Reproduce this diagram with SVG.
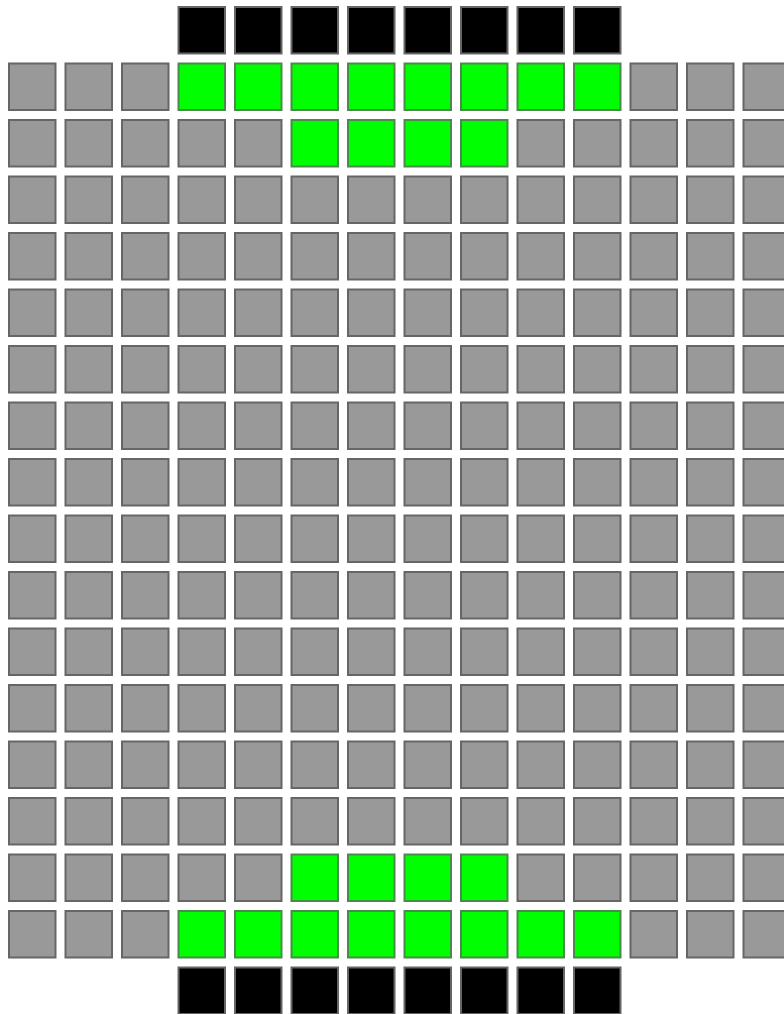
<svg xmlns="http://www.w3.org/2000/svg" width="784" height="1014" viewBox="0 0 784 1014">
<style>
rect{width:46.5px;height:46.5px;stroke:#666;stroke-width:2}
.g{fill:#999}
.n{fill:#00ff00;stroke:#4a8a4a}
.k{fill:#000;stroke:#666}
</style>
<rect x="0" y="0" width="784" height="1014" style="fill:#fff;stroke:none;width:784px;height:1014px"/>
<g id="connectors"/>
<g id="row0" transform="translate(0,7)">
<g id="n0-3"><rect class="k" x="178.5" y="0"/></g><g id="n0-4"><rect class="k" x="235" y="0"/></g><g id="n0-5"><rect class="k" x="291.5" y="0"/></g><g id="n0-6"><rect class="k" x="348" y="0"/></g><g id="n0-7"><rect class="k" x="404.5" y="0"/></g><g id="n0-8"><rect class="k" x="461" y="0"/></g><g id="n0-9"><rect class="k" x="517.5" y="0"/></g><g id="n0-10"><rect class="k" x="574" y="0"/></g>
</g>
<g id="row1" transform="translate(0,63.5)">
<g id="n1-0"><rect class="g" x="9" y="0"/></g><g id="n1-1"><rect class="g" x="65.5" y="0"/></g><g id="n1-2"><rect class="g" x="122" y="0"/></g><g id="n1-3"><rect class="n" x="178.5" y="0"/></g><g id="n1-4"><rect class="n" x="235" y="0"/></g><g id="n1-5"><rect class="n" x="291.5" y="0"/></g><g id="n1-6"><rect class="n" x="348" y="0"/></g><g id="n1-7"><rect class="n" x="404.5" y="0"/></g><g id="n1-8"><rect class="n" x="461" y="0"/></g><g id="n1-9"><rect class="n" x="517.5" y="0"/></g><g id="n1-10"><rect class="n" x="574" y="0"/></g><g id="n1-11"><rect class="g" x="630.5" y="0"/></g><g id="n1-12"><rect class="g" x="687" y="0"/></g><g id="n1-13"><rect class="g" x="743.5" y="0"/></g>
</g>
<g id="row2" transform="translate(0,120)">
<g id="n2-0"><rect class="g" x="9" y="0"/></g><g id="n2-1"><rect class="g" x="65.5" y="0"/></g><g id="n2-2"><rect class="g" x="122" y="0"/></g><g id="n2-3"><rect class="g" x="178.5" y="0"/></g><g id="n2-4"><rect class="g" x="235" y="0"/></g><g id="n2-5"><rect class="n" x="291.5" y="0"/></g><g id="n2-6"><rect class="n" x="348" y="0"/></g><g id="n2-7"><rect class="n" x="404.5" y="0"/></g><g id="n2-8"><rect class="n" x="461" y="0"/></g><g id="n2-9"><rect class="g" x="517.5" y="0"/></g><g id="n2-10"><rect class="g" x="574" y="0"/></g><g id="n2-11"><rect class="g" x="630.5" y="0"/></g><g id="n2-12"><rect class="g" x="687" y="0"/></g><g id="n2-13"><rect class="g" x="743.5" y="0"/></g>
</g>
<g id="row3" transform="translate(0,176.5)">
<g id="n3-0"><rect class="g" x="9" y="0"/></g><g id="n3-1"><rect class="g" x="65.5" y="0"/></g><g id="n3-2"><rect class="g" x="122" y="0"/></g><g id="n3-3"><rect class="g" x="178.5" y="0"/></g><g id="n3-4"><rect class="g" x="235" y="0"/></g><g id="n3-5"><rect class="g" x="291.5" y="0"/></g><g id="n3-6"><rect class="g" x="348" y="0"/></g><g id="n3-7"><rect class="g" x="404.5" y="0"/></g><g id="n3-8"><rect class="g" x="461" y="0"/></g><g id="n3-9"><rect class="g" x="517.5" y="0"/></g><g id="n3-10"><rect class="g" x="574" y="0"/></g><g id="n3-11"><rect class="g" x="630.5" y="0"/></g><g id="n3-12"><rect class="g" x="687" y="0"/></g><g id="n3-13"><rect class="g" x="743.5" y="0"/></g>
</g>
<g id="row4" transform="translate(0,233)">
<g id="n4-0"><rect class="g" x="9" y="0"/></g><g id="n4-1"><rect class="g" x="65.5" y="0"/></g><g id="n4-2"><rect class="g" x="122" y="0"/></g><g id="n4-3"><rect class="g" x="178.5" y="0"/></g><g id="n4-4"><rect class="g" x="235" y="0"/></g><g id="n4-5"><rect class="g" x="291.5" y="0"/></g><g id="n4-6"><rect class="g" x="348" y="0"/></g><g id="n4-7"><rect class="g" x="404.5" y="0"/></g><g id="n4-8"><rect class="g" x="461" y="0"/></g><g id="n4-9"><rect class="g" x="517.5" y="0"/></g><g id="n4-10"><rect class="g" x="574" y="0"/></g><g id="n4-11"><rect class="g" x="630.5" y="0"/></g><g id="n4-12"><rect class="g" x="687" y="0"/></g><g id="n4-13"><rect class="g" x="743.5" y="0"/></g>
</g>
<g id="row5" transform="translate(0,289.5)">
<g id="n5-0"><rect class="g" x="9" y="0"/></g><g id="n5-1"><rect class="g" x="65.5" y="0"/></g><g id="n5-2"><rect class="g" x="122" y="0"/></g><g id="n5-3"><rect class="g" x="178.5" y="0"/></g><g id="n5-4"><rect class="g" x="235" y="0"/></g><g id="n5-5"><rect class="g" x="291.5" y="0"/></g><g id="n5-6"><rect class="g" x="348" y="0"/></g><g id="n5-7"><rect class="g" x="404.5" y="0"/></g><g id="n5-8"><rect class="g" x="461" y="0"/></g><g id="n5-9"><rect class="g" x="517.5" y="0"/></g><g id="n5-10"><rect class="g" x="574" y="0"/></g><g id="n5-11"><rect class="g" x="630.5" y="0"/></g><g id="n5-12"><rect class="g" x="687" y="0"/></g><g id="n5-13"><rect class="g" x="743.5" y="0"/></g>
</g>
<g id="row6" transform="translate(0,346)">
<g id="n6-0"><rect class="g" x="9" y="0"/></g><g id="n6-1"><rect class="g" x="65.5" y="0"/></g><g id="n6-2"><rect class="g" x="122" y="0"/></g><g id="n6-3"><rect class="g" x="178.5" y="0"/></g><g id="n6-4"><rect class="g" x="235" y="0"/></g><g id="n6-5"><rect class="g" x="291.5" y="0"/></g><g id="n6-6"><rect class="g" x="348" y="0"/></g><g id="n6-7"><rect class="g" x="404.5" y="0"/></g><g id="n6-8"><rect class="g" x="461" y="0"/></g><g id="n6-9"><rect class="g" x="517.5" y="0"/></g><g id="n6-10"><rect class="g" x="574" y="0"/></g><g id="n6-11"><rect class="g" x="630.5" y="0"/></g><g id="n6-12"><rect class="g" x="687" y="0"/></g><g id="n6-13"><rect class="g" x="743.5" y="0"/></g>
</g>
<g id="row7" transform="translate(0,402.5)">
<g id="n7-0"><rect class="g" x="9" y="0"/></g><g id="n7-1"><rect class="g" x="65.5" y="0"/></g><g id="n7-2"><rect class="g" x="122" y="0"/></g><g id="n7-3"><rect class="g" x="178.5" y="0"/></g><g id="n7-4"><rect class="g" x="235" y="0"/></g><g id="n7-5"><rect class="g" x="291.5" y="0"/></g><g id="n7-6"><rect class="g" x="348" y="0"/></g><g id="n7-7"><rect class="g" x="404.5" y="0"/></g><g id="n7-8"><rect class="g" x="461" y="0"/></g><g id="n7-9"><rect class="g" x="517.5" y="0"/></g><g id="n7-10"><rect class="g" x="574" y="0"/></g><g id="n7-11"><rect class="g" x="630.5" y="0"/></g><g id="n7-12"><rect class="g" x="687" y="0"/></g><g id="n7-13"><rect class="g" x="743.5" y="0"/></g>
</g>
<g id="row8" transform="translate(0,459)">
<g id="n8-0"><rect class="g" x="9" y="0"/></g><g id="n8-1"><rect class="g" x="65.5" y="0"/></g><g id="n8-2"><rect class="g" x="122" y="0"/></g><g id="n8-3"><rect class="g" x="178.5" y="0"/></g><g id="n8-4"><rect class="g" x="235" y="0"/></g><g id="n8-5"><rect class="g" x="291.5" y="0"/></g><g id="n8-6"><rect class="g" x="348" y="0"/></g><g id="n8-7"><rect class="g" x="404.5" y="0"/></g><g id="n8-8"><rect class="g" x="461" y="0"/></g><g id="n8-9"><rect class="g" x="517.5" y="0"/></g><g id="n8-10"><rect class="g" x="574" y="0"/></g><g id="n8-11"><rect class="g" x="630.5" y="0"/></g><g id="n8-12"><rect class="g" x="687" y="0"/></g><g id="n8-13"><rect class="g" x="743.5" y="0"/></g>
</g>
<g id="row9" transform="translate(0,515.5)">
<g id="n9-0"><rect class="g" x="9" y="0"/></g><g id="n9-1"><rect class="g" x="65.5" y="0"/></g><g id="n9-2"><rect class="g" x="122" y="0"/></g><g id="n9-3"><rect class="g" x="178.5" y="0"/></g><g id="n9-4"><rect class="g" x="235" y="0"/></g><g id="n9-5"><rect class="g" x="291.5" y="0"/></g><g id="n9-6"><rect class="g" x="348" y="0"/></g><g id="n9-7"><rect class="g" x="404.5" y="0"/></g><g id="n9-8"><rect class="g" x="461" y="0"/></g><g id="n9-9"><rect class="g" x="517.5" y="0"/></g><g id="n9-10"><rect class="g" x="574" y="0"/></g><g id="n9-11"><rect class="g" x="630.5" y="0"/></g><g id="n9-12"><rect class="g" x="687" y="0"/></g><g id="n9-13"><rect class="g" x="743.5" y="0"/></g>
</g>
<g id="row10" transform="translate(0,572)">
<g id="n10-0"><rect class="g" x="9" y="0"/></g><g id="n10-1"><rect class="g" x="65.5" y="0"/></g><g id="n10-2"><rect class="g" x="122" y="0"/></g><g id="n10-3"><rect class="g" x="178.5" y="0"/></g><g id="n10-4"><rect class="g" x="235" y="0"/></g><g id="n10-5"><rect class="g" x="291.5" y="0"/></g><g id="n10-6"><rect class="g" x="348" y="0"/></g><g id="n10-7"><rect class="g" x="404.5" y="0"/></g><g id="n10-8"><rect class="g" x="461" y="0"/></g><g id="n10-9"><rect class="g" x="517.5" y="0"/></g><g id="n10-10"><rect class="g" x="574" y="0"/></g><g id="n10-11"><rect class="g" x="630.5" y="0"/></g><g id="n10-12"><rect class="g" x="687" y="0"/></g><g id="n10-13"><rect class="g" x="743.5" y="0"/></g>
</g>
<g id="row11" transform="translate(0,628.5)">
<g id="n11-0"><rect class="g" x="9" y="0"/></g><g id="n11-1"><rect class="g" x="65.5" y="0"/></g><g id="n11-2"><rect class="g" x="122" y="0"/></g><g id="n11-3"><rect class="g" x="178.5" y="0"/></g><g id="n11-4"><rect class="g" x="235" y="0"/></g><g id="n11-5"><rect class="g" x="291.5" y="0"/></g><g id="n11-6"><rect class="g" x="348" y="0"/></g><g id="n11-7"><rect class="g" x="404.5" y="0"/></g><g id="n11-8"><rect class="g" x="461" y="0"/></g><g id="n11-9"><rect class="g" x="517.5" y="0"/></g><g id="n11-10"><rect class="g" x="574" y="0"/></g><g id="n11-11"><rect class="g" x="630.5" y="0"/></g><g id="n11-12"><rect class="g" x="687" y="0"/></g><g id="n11-13"><rect class="g" x="743.5" y="0"/></g>
</g>
<g id="row12" transform="translate(0,685)">
<g id="n12-0"><rect class="g" x="9" y="0"/></g><g id="n12-1"><rect class="g" x="65.5" y="0"/></g><g id="n12-2"><rect class="g" x="122" y="0"/></g><g id="n12-3"><rect class="g" x="178.5" y="0"/></g><g id="n12-4"><rect class="g" x="235" y="0"/></g><g id="n12-5"><rect class="g" x="291.5" y="0"/></g><g id="n12-6"><rect class="g" x="348" y="0"/></g><g id="n12-7"><rect class="g" x="404.5" y="0"/></g><g id="n12-8"><rect class="g" x="461" y="0"/></g><g id="n12-9"><rect class="g" x="517.5" y="0"/></g><g id="n12-10"><rect class="g" x="574" y="0"/></g><g id="n12-11"><rect class="g" x="630.5" y="0"/></g><g id="n12-12"><rect class="g" x="687" y="0"/></g><g id="n12-13"><rect class="g" x="743.5" y="0"/></g>
</g>
<g id="row13" transform="translate(0,741.5)">
<g id="n13-0"><rect class="g" x="9" y="0"/></g><g id="n13-1"><rect class="g" x="65.5" y="0"/></g><g id="n13-2"><rect class="g" x="122" y="0"/></g><g id="n13-3"><rect class="g" x="178.5" y="0"/></g><g id="n13-4"><rect class="g" x="235" y="0"/></g><g id="n13-5"><rect class="g" x="291.5" y="0"/></g><g id="n13-6"><rect class="g" x="348" y="0"/></g><g id="n13-7"><rect class="g" x="404.5" y="0"/></g><g id="n13-8"><rect class="g" x="461" y="0"/></g><g id="n13-9"><rect class="g" x="517.5" y="0"/></g><g id="n13-10"><rect class="g" x="574" y="0"/></g><g id="n13-11"><rect class="g" x="630.5" y="0"/></g><g id="n13-12"><rect class="g" x="687" y="0"/></g><g id="n13-13"><rect class="g" x="743.5" y="0"/></g>
</g>
<g id="row14" transform="translate(0,798)">
<g id="n14-0"><rect class="g" x="9" y="0"/></g><g id="n14-1"><rect class="g" x="65.5" y="0"/></g><g id="n14-2"><rect class="g" x="122" y="0"/></g><g id="n14-3"><rect class="g" x="178.5" y="0"/></g><g id="n14-4"><rect class="g" x="235" y="0"/></g><g id="n14-5"><rect class="g" x="291.5" y="0"/></g><g id="n14-6"><rect class="g" x="348" y="0"/></g><g id="n14-7"><rect class="g" x="404.5" y="0"/></g><g id="n14-8"><rect class="g" x="461" y="0"/></g><g id="n14-9"><rect class="g" x="517.5" y="0"/></g><g id="n14-10"><rect class="g" x="574" y="0"/></g><g id="n14-11"><rect class="g" x="630.5" y="0"/></g><g id="n14-12"><rect class="g" x="687" y="0"/></g><g id="n14-13"><rect class="g" x="743.5" y="0"/></g>
</g>
<g id="row15" transform="translate(0,854.5)">
<g id="n15-0"><rect class="g" x="9" y="0"/></g><g id="n15-1"><rect class="g" x="65.5" y="0"/></g><g id="n15-2"><rect class="g" x="122" y="0"/></g><g id="n15-3"><rect class="g" x="178.5" y="0"/></g><g id="n15-4"><rect class="g" x="235" y="0"/></g><g id="n15-5"><rect class="n" x="291.5" y="0"/></g><g id="n15-6"><rect class="n" x="348" y="0"/></g><g id="n15-7"><rect class="n" x="404.5" y="0"/></g><g id="n15-8"><rect class="n" x="461" y="0"/></g><g id="n15-9"><rect class="g" x="517.5" y="0"/></g><g id="n15-10"><rect class="g" x="574" y="0"/></g><g id="n15-11"><rect class="g" x="630.5" y="0"/></g><g id="n15-12"><rect class="g" x="687" y="0"/></g><g id="n15-13"><rect class="g" x="743.5" y="0"/></g>
</g>
<g id="row16" transform="translate(0,911)">
<g id="n16-0"><rect class="g" x="9" y="0"/></g><g id="n16-1"><rect class="g" x="65.5" y="0"/></g><g id="n16-2"><rect class="g" x="122" y="0"/></g><g id="n16-3"><rect class="n" x="178.5" y="0"/></g><g id="n16-4"><rect class="n" x="235" y="0"/></g><g id="n16-5"><rect class="n" x="291.5" y="0"/></g><g id="n16-6"><rect class="n" x="348" y="0"/></g><g id="n16-7"><rect class="n" x="404.5" y="0"/></g><g id="n16-8"><rect class="n" x="461" y="0"/></g><g id="n16-9"><rect class="n" x="517.5" y="0"/></g><g id="n16-10"><rect class="n" x="574" y="0"/></g><g id="n16-11"><rect class="g" x="630.5" y="0"/></g><g id="n16-12"><rect class="g" x="687" y="0"/></g><g id="n16-13"><rect class="g" x="743.5" y="0"/></g>
</g>
<g id="row17" transform="translate(0,967.5)">
<g id="n17-3"><rect class="k" x="178.5" y="0"/></g><g id="n17-4"><rect class="k" x="235" y="0"/></g><g id="n17-5"><rect class="k" x="291.5" y="0"/></g><g id="n17-6"><rect class="k" x="348" y="0"/></g><g id="n17-7"><rect class="k" x="404.5" y="0"/></g><g id="n17-8"><rect class="k" x="461" y="0"/></g><g id="n17-9"><rect class="k" x="517.5" y="0"/></g><g id="n17-10"><rect class="k" x="574" y="0"/></g>
</g>
</svg>
